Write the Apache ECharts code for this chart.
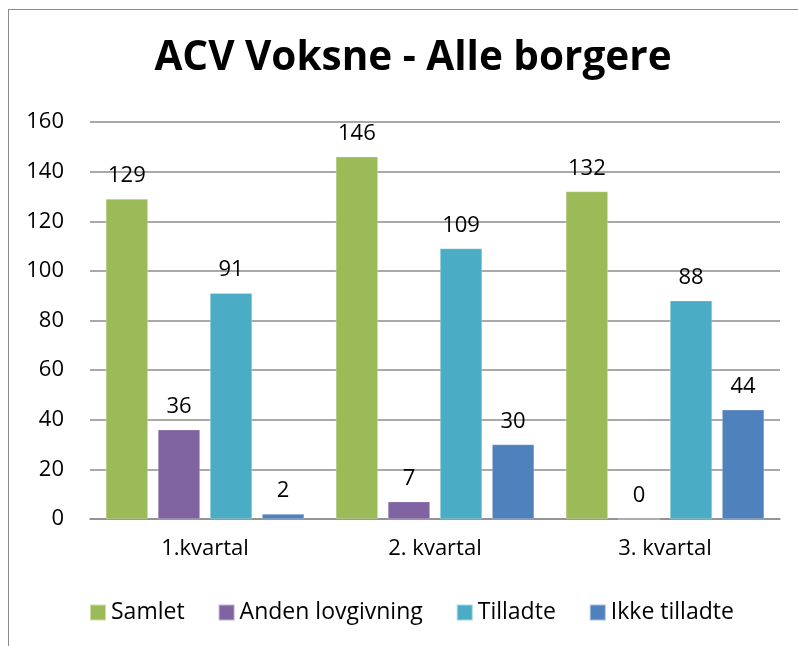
<!DOCTYPE html>
<html>
<head>
<meta charset="utf-8">
<title>ACV Voksne - Alle borgere</title>
<script src="https://cdn.jsdelivr.net/npm/echarts@6/dist/echarts.min.js"></script>
<style>
  html, body { margin: 0; padding: 0; overflow: hidden; background: #fff; }
  #frame {
    position: absolute; left: 8px; top: 9px;
    width: 900px; height: 900px;
    border: 1px solid #8c8c8c; box-sizing: border-box;
  }
  #chart { position: absolute; left: 0; top: 0; width: 798px; height: 646px; }
</style>
</head>
<body>
<div id="frame"></div>
<div id="chart"></div>
<script>
const categories = ['1.kvartal', '2. kvartal', '3. kvartal']
const samlet = [129, 146, 132]
const andenLovgivning = [36, 7, 0]
const tilladte = [91, 109, 88]
const ikkeTilladte = [2, 30, 44]
const yTicks = { min: 0, max: 160, interval: 20 }

const font = '"Open Sans", "Noto Sans", sans-serif'
const chart = echarts.init(document.getElementById('chart'), null, { renderer: 'canvas' })

function bar(name, data, color) {
  return {
    name,
    type: 'bar',
    data,
    barWidth: 42,
    barGap: '24%',
    itemStyle: { color, borderColor: 'rgba(255,255,255,0.5)', borderWidth: 0.5 },
    label: {
      show: true,
      position: 'top',
      distance: 12,
      color: '#000',
      fontFamily: font,
      fontSize: 22,
    },
  }
}

chart.setOption({
  animation: false,
  title: {
    text: 'ACV Voksne - Alle borgere',
    left: 408,
    top: 33,
    textAlign: 'center',
    textStyle: { fontFamily: font, fontWeight: 'bold', fontSize: 40.5, color: '#000' },
  },
  legend: {
    left: 84,
    top: 596,
    itemWidth: 16,
    itemHeight: 16,
    itemGap: 33,
    icon: 'rect',
    textStyle: { fontFamily: font, fontSize: 23, color: '#000' },
  },
  grid: { left: 90, right: 18, top: 122, bottom: 127 },
  xAxis: {
    type: 'category',
    data: categories,
    axisLine: { lineStyle: { color: '#8c8c8c', width: 1.5 } },
    axisTick: { show: false },
    axisLabel: { color: '#000', fontFamily: font, fontSize: 22, margin: 19 },
  },
  yAxis: {
    type: 'value',
    min: yTicks.min,
    max: yTicks.max,
    interval: yTicks.interval,
    axisLine: { show: false },
    axisTick: { show: false },
    splitLine: { lineStyle: { color: '#8c8c8c', width: 1.5 } },
    axisLabel: { color: '#000', fontFamily: font, fontSize: 22, margin: 26 },
  },
  series: [
    bar('Samlet', samlet, '#9BBB59'),
    bar('Anden lovgivning', andenLovgivning, '#8064A2'),
    bar('Tilladte', tilladte, '#4BACC6'),
    bar('Ikke tilladte', ikkeTilladte, '#4F81BD'),
  ],
})
</script>
</body>
</html>
